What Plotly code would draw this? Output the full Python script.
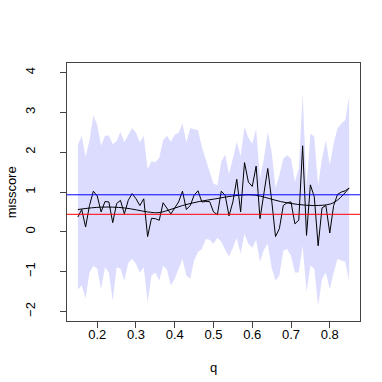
import plotly.graph_objects as go

# q grid 0.15 .. 0.85 by 0.01
q = [round(0.15 + 0.01 * i, 2) for i in range(71)]

# observed misscore per q
misscore = [0.37, 0.56, 0.12, 0.66, 1.02, 0.90, 0.50, 0.76, 0.75, 0.23,
            0.71, 0.79, 0.45, 0.79, 0.96, 0.83, 0.66, 0.83, -0.12, 0.34,
            0.33, 0.29, 0.73, 0.58, 0.45, 0.60, 0.75, 1.02, 0.56, 0.66,
            0.92, 1.03, 0.75, 0.76, 0.76, 0.50, 0.43, 1.02, 0.92, 0.40,
            0.75, 1.32, 0.50, 1.74, 1.25, 1.14, 1.65, 0.33, 0.96, 1.59,
            0.80, -0.12, 0.08, 0.66, 0.73, 0.75, 0.20, 0.29, 2.16, -0.09,
            1.18, 0.88, -0.35, 0.60, 0.66, -0.03, 0.66, 0.94, 1.00, 1.03,
            1.10]

# band limits
upper = [2.18, 2.41, 1.88, 2.30, 2.92, 2.68, 2.16, 2.41, 2.42, 2.20,
         2.28, 2.51, 2.25, 2.44, 2.61, 2.49, 2.25, 2.41, 1.57, 1.77,
         1.75, 1.86, 2.30, 2.41, 2.26, 2.44, 2.49, 2.72, 2.25, 2.60,
         2.58, 2.56, 2.13, 1.84, 1.50, 1.21, 1.17, 1.76, 1.94, 1.46,
         1.84, 2.26, 1.90, 2.64, 2.36, 2.21, 2.58, 1.34, 1.84, 2.51,
         2.01, 1.10, 1.42, 1.84, 1.92, 1.84, 1.25, 1.59, 3.48, 1.13,
         2.47, 2.39, 1.17, 1.84, 2.30, 1.67, 2.22, 2.60, 2.72, 2.81,
         3.40]
lower = [-1.44, -1.35, -1.67, -1.02, -0.86, -0.93, -1.44, -0.89, -1.02, -1.73,
         -0.89, -0.93, -1.23, -0.78, -0.68, -0.81, -1.02, -0.89, -1.77, -1.10,
         -1.02, -1.23, -0.85, -0.95, -1.35, -1.18, -0.93, -0.68, -1.10, -1.18,
         -0.72, -0.51, -0.43, -0.18, -0.20, -0.30, -0.15, -0.25, -0.45, -0.62,
         -0.40, -0.15, -0.55, -0.05, -0.30, -0.40, -0.20, -0.75, -0.45, -0.30,
         -0.90, -1.23, -1.10, -0.47, -0.43, -0.60, -1.02, -1.02, -0.35, -1.52,
         -0.85, -0.93, -1.86, -1.18, -1.02, -1.44, -1.02, -0.68, -0.72, -0.75,
         -1.23]

# smoothed trend
smooth_q = [0.15, 0.21, 0.27, 0.33, 0.357, 0.383, 0.42, 0.463, 0.506, 0.549,
            0.584, 0.609, 0.635, 0.673, 0.716, 0.759, 0.802, 0.823, 0.85]
smooth_v = [0.56, 0.62, 0.60, 0.50, 0.48, 0.54, 0.66, 0.76, 0.83, 0.90,
            0.93, 0.92, 0.86, 0.76, 0.69, 0.66, 0.70, 0.82, 1.10]

blue_level = 0.93
red_level = 0.44

fig = go.Figure()

fig.add_trace(go.Scatter(x=q, y=lower, mode="lines", line=dict(width=0),
                         hoverinfo="skip", showlegend=False))
fig.add_trace(go.Scatter(x=q, y=upper, mode="lines", line=dict(width=0),
                         fill="tonexty", fillcolor="#DCDCFF",
                         hoverinfo="skip", showlegend=False))

fig.add_hline(y=blue_level, line=dict(color="#0000FF", width=1))
fig.add_hline(y=red_level, line=dict(color="#FF0000", width=1))

fig.add_trace(go.Scatter(x=q, y=misscore, mode="lines",
                         line=dict(color="#000000", width=1), showlegend=False))
fig.add_trace(go.Scatter(x=smooth_q, y=smooth_v, mode="lines", line_shape="spline",
                         line=dict(color="#000000", width=1), showlegend=False))

axis_font = dict(family="Liberation Sans, Arial, sans-serif", size=13, color="#000")

fig.update_layout(
    width=382, height=382,
    margin=dict(l=59, r=30, t=55, b=69),
    paper_bgcolor="white", plot_bgcolor="white",
    font=axis_font,
    showlegend=False,
)
fig.update_xaxes(range=[0.122, 0.878], tickvals=[0.2, 0.3, 0.4, 0.5, 0.6, 0.7, 0.8],
                 ticktext=["0.2", "0.3", "0.4", "0.5", "0.6", "0.7", "0.8"],
                 ticks="outside", ticklen=6, tickcolor="#444", showgrid=False,
                 zeroline=False, showline=True, mirror=True, linecolor="#444",
                 linewidth=1, ticklabelstandoff=-5, automargin=False)
fig.update_yaxes(range=[-2.24, 4.24], tickvals=[-2, -1, 0, 1, 2, 3, 4],
                 ticks="outside", ticklen=6, tickcolor="#444", tickangle=-90,
                 showgrid=False, zeroline=False, showline=True, mirror=True,
                 linecolor="#444", linewidth=1, ticklabelstandoff=20,
                 automargin=False)

# axis titles placed like base R (line 3 of the margins)
fig.add_annotation(text="q", xref="paper", yref="paper", x=0.5, y=-0.182,
                   xanchor="center", yanchor="middle",
                   showarrow=False, font=axis_font)
fig.add_annotation(text="misscore", xref="paper", yref="paper", x=-0.19, y=0.5,
                   xanchor="center", yanchor="middle",
                   textangle=-90, showarrow=False, font=axis_font)

fig.write_html("out.html")
